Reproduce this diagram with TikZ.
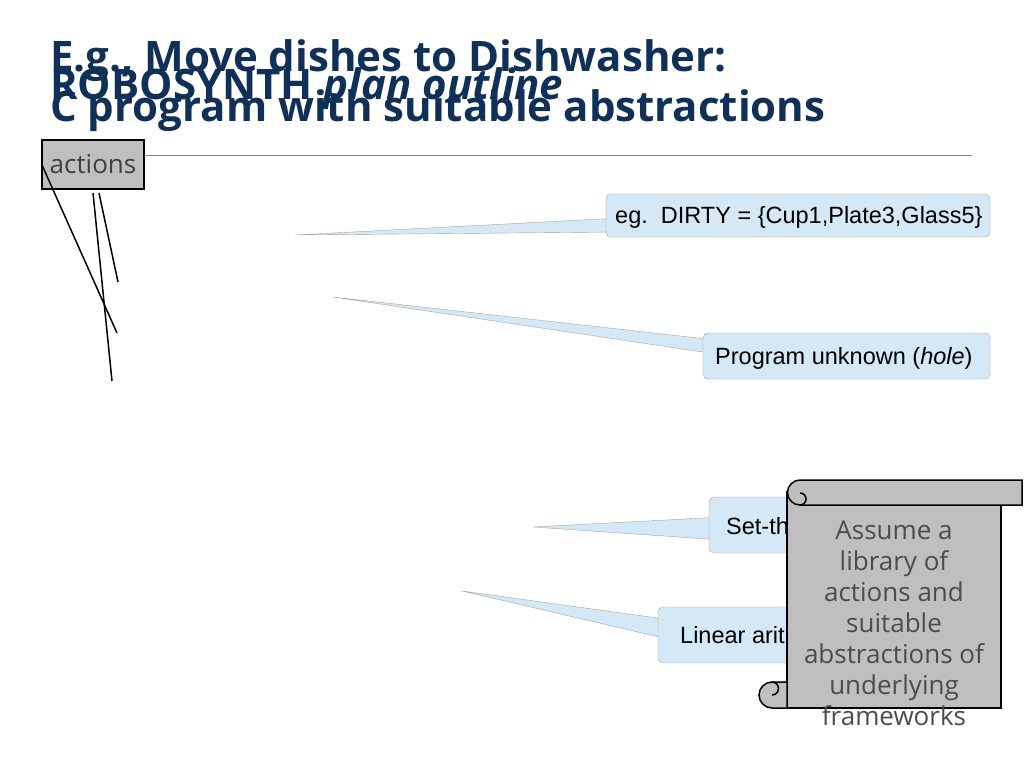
\documentclass[tikz,border=0pt]{standalone}
\usepackage{fontspec}
\setmainfont{Open Sans}
\newfontfamily\calloutfont{Liberation Sans}
\usetikzlibrary{positioning}
\definecolor{titleblue}{RGB}{16,48,88}
\definecolor{calloutblue}{RGB}{212,232,245}
\definecolor{scrollgray}{RGB}{191,191,191}
\tikzset{
  title/.style={anchor=base west,inner sep=0,font=\fontsize{42}{42}\selectfont\bfseries,text=titleblue},
  callout/.style={draw=gray!70,fill=calloutblue,rounded corners=5pt},
  tail/.style={draw=gray!70,fill=calloutblue},
  ctext/.style={anchor=base west,inner sep=0,font=\calloutfont\fontsize{23.5}{23.5}\selectfont},
  scroll/.style={draw=black,line width=1.5pt,fill=scrollgray},
  stroke/.style={line width=1.5pt}
}
\begin{document}
\begin{tikzpicture}[x=1pt,y=-1pt]
\useasboundingbox (0,0) rectangle (1024,767);
% titles
\node[title] (t1) at (50,72) {E.g., Move dishes to Dishwasher:};
\node[title] (t2) at (50,100) {ROBOSYNTH \textit{plan outline}};
\node[title] (t3) at (50,122) {C program with suitable abstractions};
\draw[gray] (42,155) -- (972,155);
% actions box
\node[draw=black,line width=1.5pt,fill=scrollgray,minimum width=102pt,minimum height=49pt,inner sep=0,
  text=black!75,font=\fontsize{26}{26}\selectfont] (act) at (93,164.5) {actions};
\coordinate (e1) at (117,333);
\coordinate (e2) at (112,381);
\coordinate (e3) at (118,282);
\draw[stroke] (42,165) -- (e1);
\draw[stroke] (93,193) -- (e2);
\draw[stroke] (99,193) -- (e3);
% callouts
\draw[tail] (295,235) -- (620,218) -- (620,232) -- cycle;
\draw[callout] (606,194) rectangle (990,237);
\node[ctext] (c1) at (615,224) {eg.\ \ DIRTY = \{Cup1,Plate3,Glass5\}};
\draw[tail] (333,297) -- (716,340) -- (716,354) -- cycle;
\draw[callout] (703,333) rectangle (990,379);
\node[ctext] (c2) at (715,364) {Program unknown (\textit{hole})};
\draw[tail] (533,527) -- (722,517) -- (722,540) -- cycle;
\draw[callout] (709,497) rectangle (990,553);
\node[ctext] (c3) at (726,534) {Set-th};
\draw[tail] (462,591) -- (672,620) -- (672,640) -- cycle;
\draw[callout] (658,607) rectangle (990,663);
\node[ctext] (c4) at (680,643) {Linear arit};
% scroll
\draw[scroll] (787,492) rectangle (1001,708);
\draw[scroll] (800,480) -- (1022,480) -- (1022,505) -- (800,505) arc (90:270:12.5) -- cycle;
\draw[scroll] (800,505) arc (90:-90:6) -- (800,493);
\draw[scroll] (787,682) -- (772,682) arc (270:90:13) -- (787,708) -- cycle;
\draw[scroll] (772,682) arc (270:450:6.5);
\node[align=center,text=black!70,font=\fontsize{26}{31}\selectfont] (lib) at (894,623)
  {Assume a\\library of\\actions and\\suitable\\abstractions of\\underlying\\frameworks};
\end{tikzpicture}
\end{document}
